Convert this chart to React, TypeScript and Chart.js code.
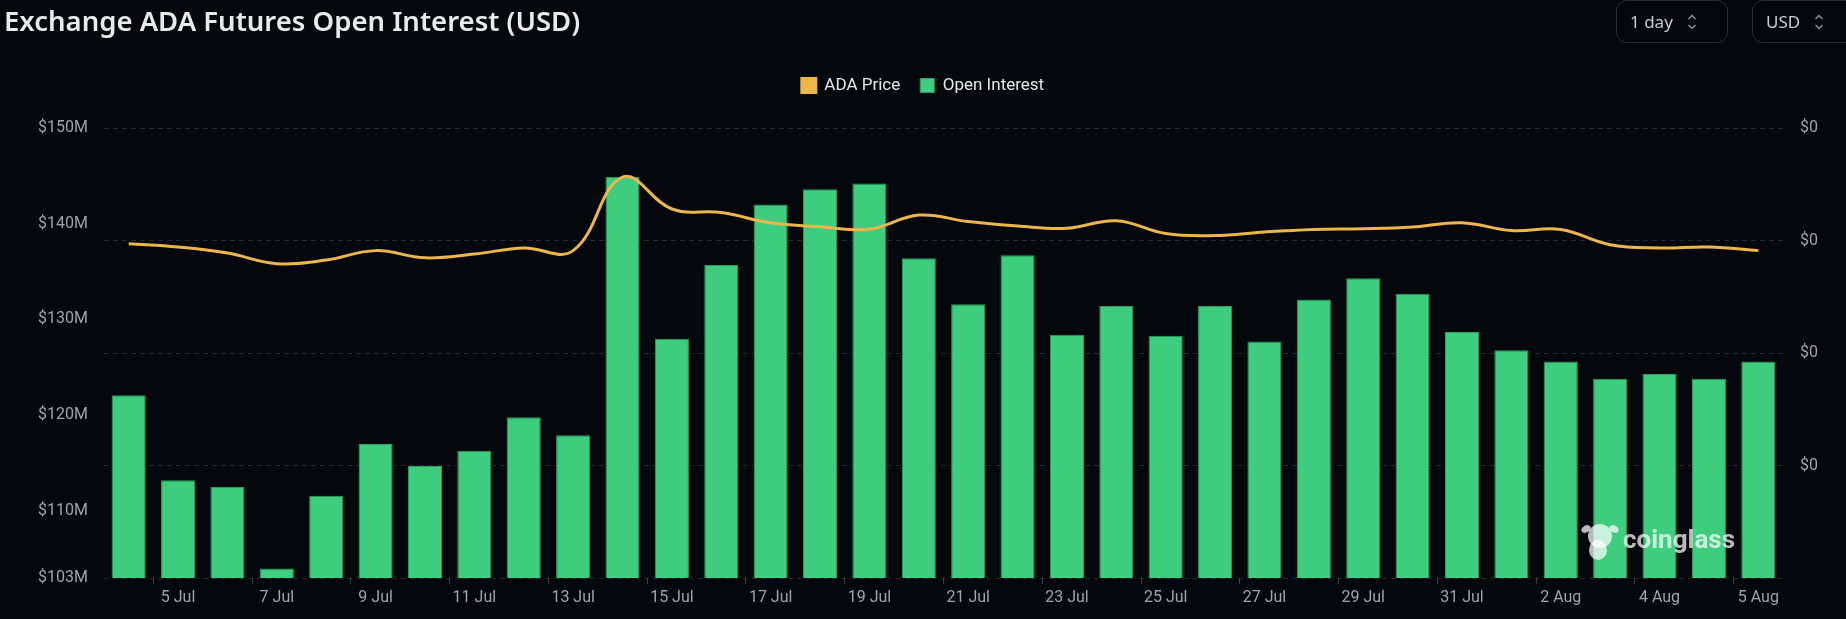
import { useEffect, useRef } from 'react';
import { Chart, registerables } from 'chart.js';
import type { ChartConfiguration, Plugin } from 'chart.js';

Chart.register(...registerables);

// one bar per day, the last label repeats as on the site
const dates = [
  '4 Jul', '5 Jul', '6 Jul', '7 Jul', '8 Jul', '9 Jul', '10 Jul', '11 Jul', '12 Jul', '13 Jul',
  '14 Jul', '15 Jul', '16 Jul', '17 Jul', '18 Jul', '19 Jul', '20 Jul', '21 Jul', '22 Jul', '23 Jul',
  '24 Jul', '25 Jul', '26 Jul', '27 Jul', '28 Jul', '29 Jul', '30 Jul', '31 Jul', '1 Aug', '2 Aug',
  '3 Aug', '4 Aug', '5 Aug', '5 Aug',
];

// open interest, millions USD
const openInterestM = [
  122.1, 113.2, 112.5, 104.0, 111.6, 117.0, 114.7, 116.3, 119.8, 117.9,
  144.9, 128.0, 135.7, 142.0, 143.6, 144.2, 136.4, 131.6, 136.7, 128.4,
  131.4, 128.3, 131.4, 127.7, 132.1, 134.3, 132.7, 128.7, 126.8, 125.6,
  123.8, 124.3, 123.8, 125.6,
];

// ADA price, USD
const adaPrice = [
  0.2886, 0.2871, 0.2844, 0.2797, 0.2813, 0.2855, 0.2823, 0.2840, 0.2867, 0.2855,
  0.3182, 0.3040, 0.3024, 0.2979, 0.2961, 0.2950, 0.3013, 0.2984, 0.2964, 0.2954,
  0.2988, 0.2931, 0.2922, 0.2938, 0.2949, 0.2952, 0.2960, 0.2979, 0.2944, 0.2949,
  0.2881, 0.2867, 0.2871, 0.2855,
];

const oiTicks = [103, 110, 120, 130, 140, 150];
const priceTicks = [0.14, 0.19, 0.24, 0.29, 0.34];

const BG = '#04070c';
const GREEN = '#3ecd7e';
const ORANGE = '#ecb64b';
const TICK_COLOR = '#a0a3a8';

Chart.defaults.font.family = 'Roboto, sans-serif';

const legendSpacer: Plugin = {
  id: 'legendSpacer',
  beforeInit(chart: any) {
    const fit = chart.legend.fit;
    chart.legend.fit = function () {
      fit.call(this);
      this.height += 24;
    };
  },
};

const watermark: Plugin = {
  id: 'watermark',
  afterDatasetsDraw(chart) {
    const { ctx, chartArea } = chart;
    const x = chartArea.right - 160;
    const y = chartArea.bottom - 30;
    ctx.save();
    ctx.fillStyle = 'rgba(255,255,255,0.72)';
    // little bull head
    ctx.beginPath();
    ctx.arc(x - 23, y - 12, 12, 0, Math.PI * 2);
    ctx.fill();
    ctx.beginPath();
    ctx.ellipse(x - 25, y + 2, 9, 10, 0, 0, Math.PI * 2);
    ctx.fill();
    ctx.beginPath();
    ctx.ellipse(x - 37, y - 19, 5, 3.5, -0.5, 0, Math.PI * 2);
    ctx.ellipse(x - 9, y - 19, 5, 3.5, 0.5, 0, Math.PI * 2);
    ctx.fill();
    ctx.font = 'bold 26px Roboto, sans-serif';
    ctx.textBaseline = 'alphabetic';
    ctx.fillText('coinglass', x, y);
    ctx.restore();
  },
};

function Chevrons() {
  return (
    <svg width="10" height="18" viewBox="0 0 10 18" style={{ marginLeft: 14 }}>
      <path d="M1.5 6 L5 2.5 L8.5 6" fill="none" stroke="#8d9096" strokeWidth="1.5" />
      <path d="M1.5 12 L5 15.5 L8.5 12" fill="none" stroke="#8d9096" strokeWidth="1.5" />
    </svg>
  );
}

function OpenInterestChart() {
  const canvasRef = useRef<HTMLCanvasElement>(null);

  useEffect(() => {
    if (!canvasRef.current) return;

    const config: ChartConfiguration = {
      type: 'bar',
      data: {
        labels: dates,
        datasets: [
          {
            type: 'line',
            label: 'ADA Price',
            data: adaPrice,
            borderColor: ORANGE,
            backgroundColor: ORANGE,
            borderWidth: 3,
            pointRadius: 0,
            tension: 0.4,
            yAxisID: 'y1',
            order: 0,
          },
          {
            type: 'bar',
            label: 'Open Interest',
            data: openInterestM,
            backgroundColor: GREEN,
            borderColor: '#2a9e5e',
            borderWidth: 1,
            barPercentage: 0.69,
            categoryPercentage: 1,
            yAxisID: 'y',
            order: 1,
          },
        ],
      },
      options: {
        animation: false,
        responsive: true,
        maintainAspectRatio: false,
        layout: { padding: { top: 57, left: 0, right: 0, bottom: 0 } },
        plugins: {
          legend: {
            position: 'top',
            labels: {
              color: '#e6e7e9',
              font: { size: 17 },
              boxWidth: 14,
              boxHeight: 14,
              padding: 20,
            },
          },
          tooltip: { enabled: false },
        },
        scales: {
          x: {
            offset: true,
            border: { display: false },
            grid: {
              offset: true,
              drawOnChartArea: false,
              drawTicks: true,
              tickLength: 6,
              color: (ctx: any) =>
                ctx.index % 2 === 1 || ctx.index === dates.length ? '#3a3e46' : 'transparent',
            },
            ticks: {
              color: TICK_COLOR,
              font: { size: 16 },
              padding: 4,
              autoSkip: false,
              maxRotation: 0,
              callback: (_v: any, i: number) => (i % 2 === 1 ? dates[i] : ''),
            },
            afterFit: (scale: any) => {
              scale.height = 41;
            },
          },
          y: {
            position: 'left',
            min: 103,
            max: 150,
            border: { display: false },
            grid: { display: false, drawTicks: false },
            ticks: {
              color: TICK_COLOR,
              font: { size: 16 },
              padding: 16,
              callback: (v: any) => `$${v}M`,
            },
            afterBuildTicks: (scale: any) => {
              scale.ticks = oiTicks.map((value) => ({ value }));
            },
            afterFit: (scale: any) => {
              scale.width = 104;
            },
          },
          y1: {
            position: 'right',
            min: 0.14,
            max: 0.34,
            border: { display: false, dash: [5, 4] },
            grid: {
              color: 'rgba(255,255,255,0.13)',
              drawTicks: false,
            },
            ticks: {
              color: TICK_COLOR,
              font: { size: 16 },
              padding: 17,
              callback: (v: any, i: number) => (i === 0 ? '' : `$${Math.round(v)}`),
            },
            afterBuildTicks: (scale: any) => {
              scale.ticks = priceTicks.map((value) => ({ value }));
            },
            afterFit: (scale: any) => {
              scale.width = 63;
            },
          },
        },
      } as any,
      plugins: [legendSpacer, watermark],
    };

    const chart = new Chart(canvasRef.current, config);
    return () => chart.destroy();
  }, []);

  return (
    <div style={{ position: 'absolute', left: 0, top: 0, width: 1846, height: 619 }}>
      <canvas ref={canvasRef}></canvas>
    </div>
  );
}

export default function App() {
  const boxStyle: React.CSSProperties = {
    position: 'absolute',
    top: 0,
    height: 43,
    boxSizing: 'border-box',
    border: '1px solid #2a2d34',
    borderRadius: 11,
    display: 'flex',
    alignItems: 'center',
    paddingLeft: 13,
    color: '#c9cbcf',
    fontFamily: '"Noto Sans", sans-serif',
    fontSize: 17,
  };
  return (
    <div
      style={{
        position: 'relative',
        width: 1846,
        height: 619,
        background: BG,
        overflow: 'hidden',
      }}
    >
      <style>{`body{margin:0;background:${BG};}`}</style>
      <OpenInterestChart />
      <div
        style={{
          position: 'absolute',
          left: 4,
          top: 3,
          lineHeight: '36px',
          fontFamily: '"Noto Sans", sans-serif',
          fontWeight: 600,
          fontSize: 27.5,
          color: '#e9eaec',
          whiteSpace: 'nowrap',
        }}
      >
        Exchange ADA Futures Open Interest (USD)
      </div>
      <div style={{ ...boxStyle, left: 1616, width: 112 }}>
        1 day
        <Chevrons />
      </div>
      <div style={{ ...boxStyle, left: 1752, width: 110 }}>
        USD
        <Chevrons />
      </div>
    </div>
  );
}
